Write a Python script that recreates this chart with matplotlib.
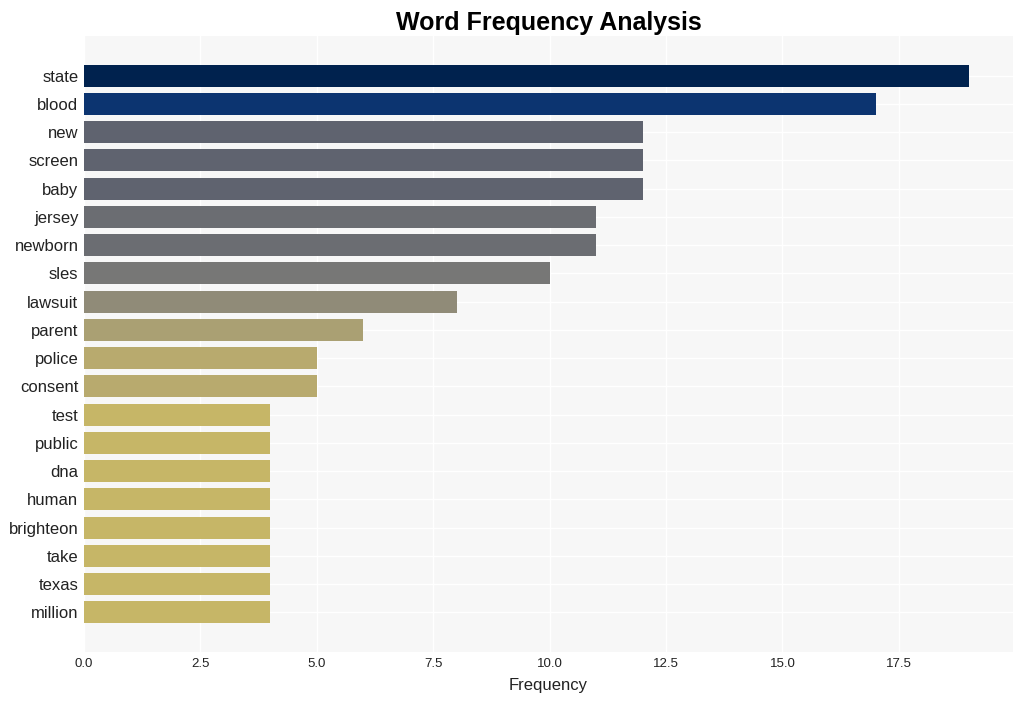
import matplotlib
matplotlib.use("Agg")
import matplotlib.pyplot as plt
import numpy as np

words = ["state", "blood", "new", "screen", "baby", "jersey", "newborn", "sles",
         "lawsuit", "parent", "police", "consent", "test", "public", "dna", "human",
         "brighteon", "take", "texas", "million"]
counts = [19, 17, 12, 12, 12, 11, 11, 10, 8, 6, 5, 5, 4, 4, 4, 4, 4, 4, 4, 4]
xticks = [0.0, 2.5, 5.0, 7.5, 10.0, 12.5, 15.0, 17.5]

plt.rcParams['font.family'] = ['Liberation Sans', 'DejaVu Sans']

fig = plt.figure(figsize=(10.24, 7.01), dpi=100)
ax = fig.add_axes([84/1024, 49/701, (1013-84)/1024, (652-36)/701])
ax.set_facecolor('#f7f7f7')

cmap = plt.get_cmap('cividis_r')
vmax = max(counts)
colors = [cmap(c / vmax) for c in counts]
y = np.arange(len(words))
ax.barh(y, counts, height=0.78, color=colors, zorder=2)

ax.set_ylim(len(words) - 1 + 1.4, -1.4)
ax.set_xlim(0, max(counts) * 1.05)
ax.set_yticks(y)
ax.set_yticklabels(words, fontsize=12, color='#222222')
ax.set_xticks(xticks)
ax.set_xticklabels([f"{t:.1f}" for t in xticks], fontsize=9.5, color='#222222')
ax.tick_params(length=0, pad=4)
ax.grid(True, color='white', linewidth=1, zorder=0)
ax.set_axisbelow(True)
for s in ax.spines.values():
    s.set_visible(False)
ax.set_xlabel("Frequency", fontsize=12, color='#222222', labelpad=6)
ax.set_title("Word Frequency Analysis", fontsize=18, fontweight='bold', pad=4)

fig.savefig("out.png", dpi=100)
